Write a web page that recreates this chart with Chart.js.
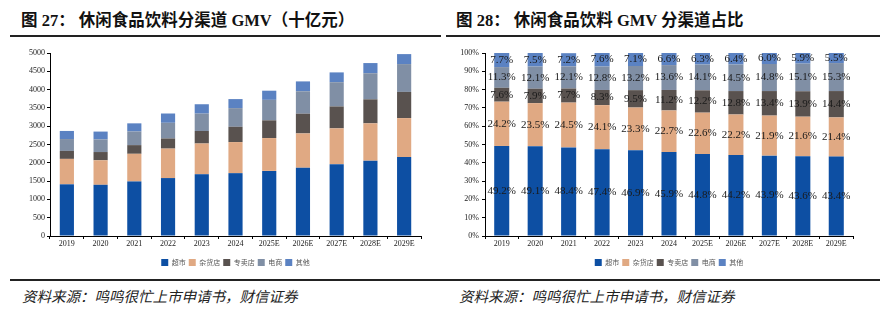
<!DOCTYPE html>
<html>
<head>
<meta charset="utf-8">
<script src="https://cdn.jsdelivr.net/npm/chart.js@4/dist/chart.umd.min.js"></script>
<style>
  body { margin: 0; width: 889px; height: 310px; background: #fff; position: relative; overflow: hidden; }
  .title { position: absolute; top: 7px; font: bold 16.5px "Liberation Serif", "Noto Sans CJK SC"; color: #111; white-space: nowrap; }
  .title .cn { font-family: "Noto Sans CJK SC"; font-weight: bold; }
  .rule { position: absolute; height: 2px; background: #222; }
  .src { position: absolute; top: 285px; font: 14.5px "Noto Sans CJK SC"; font-style: italic; color: #222; white-space: nowrap; }
  canvas { position: absolute; }
</style>
</head>
<body>
<div class="title" style="left:21px"><span class="cn">图</span> 27<span class="cn">：</span> <span class="cn">休闲食品饮料分渠道</span> GMV<span class="cn">（十亿元）</span></div>
<div class="title" style="left:456px"><span class="cn">图</span> 28<span class="cn">：</span> <span class="cn">休闲食品饮料</span> GMV <span class="cn">分渠道占比</span></div>
<div class="rule" style="left:10px; width:431px; top:35px"></div>
<div class="rule" style="left:446px; width:434px; top:35px"></div>
<div class="rule" style="left:10px; width:870px; top:279px"></div>
<div class="src" style="left:22px">资料来源：鸣鸣很忙上市申请书，财信证券</div>
<div class="src" style="left:459px">资料来源：鸣鸣很忙上市申请书，财信证券</div>

<canvas id="gmvChart" width="440" height="240" style="left:0; top:40px"></canvas>
<canvas id="shareChart" width="440" height="240" style="left:445px; top:40px"></canvas>

<script>
// 年份
const years = ['2019', '2020', '2021', '2022', '2023', '2024', '2025E', '2026E', '2027E', '2028E', '2029E'];
const channels = ['超市', '杂货店', '专卖店', '电商', '其他'];
const channelColors = ['#0d4fa3', '#e0a983', '#59524f', '#808fa5', '#5b82c2'];

// GMV（十亿元）
const gmvSupermarket = [1412, 1399, 1491, 1583, 1688, 1717, 1779, 1865, 1962, 2058, 2157];
const gmvGrocery     = [695, 670, 755, 805, 839, 849, 897, 937, 979, 1020, 1064];
const gmvSpecialty   = [218, 225, 237, 277, 342, 419, 484, 540, 599, 656, 716];
const gmvOnline      = [324, 345, 373, 428, 475, 509, 560, 612, 662, 713, 760];
const gmvOther       = [221, 214, 222, 254, 256, 247, 250, 270, 268, 278, 273];

// 占比（%）
const shareSupermarket = [49.2, 49.1, 48.4, 47.4, 46.9, 45.9, 44.8, 44.2, 43.9, 43.6, 43.4];
const shareGrocery     = [24.2, 23.5, 24.5, 24.1, 23.3, 22.7, 22.6, 22.2, 21.9, 21.6, 21.4];
const shareSpecialty   = [7.6, 7.9, 7.7, 8.3, 9.5, 11.2, 12.2, 12.8, 13.4, 13.9, 14.4];
const shareOnline      = [11.3, 12.1, 12.1, 12.8, 13.2, 13.6, 14.1, 14.5, 14.8, 15.1, 15.3];
const shareOther       = [7.7, 7.5, 7.2, 7.6, 7.1, 6.6, 6.3, 6.4, 6.0, 5.9, 5.5];

const tickFont = { family: '"Liberation Serif"', size: 8 };

function makeDatasets(series, barPct) {
    return series.map((data, i) => ({
        label: channels[i],
        data: data,
        backgroundColor: channelColors[i],
        borderWidth: 0,
        barPercentage: barPct,
        categoryPercentage: 1,
    }));
}

function baseOptions(yWidth, padRight, yOpts) {
    return {
        responsive: false,
        animation: false,
        layout: { padding: { top: 13, bottom: 4, left: 0, right: padRight } },
        plugins: {
            legend: {
                position: 'bottom',
                fullSize: false,
                labels: {
                    boxWidth: 7, boxHeight: 7, padding: 3,
                    font: { family: '"Noto Sans CJK SC"', size: 7 },
                    color: '#555',
                },
            },
            tooltip: { enabled: false },
        },
        scales: {
            x: {
                stacked: true,
                grid: { drawOnChartArea: false, color: '#000', tickLength: 3, offset: true },
                border: { color: '#000' },
                ticks: { font: tickFont, color: '#222', padding: 0, maxRotation: 0, autoSkip: false },
                afterFit: s => { s.height = 20; },
            },
            y: Object.assign({
                stacked: true,
                grid: { drawOnChartArea: false, color: '#000', tickLength: 3 },
                border: { color: '#000' },
                afterFit: s => { s.width = yWidth; },
            }, yOpts),
        },
    };
}

// 左图：GMV
new Chart(document.getElementById('gmvChart').getContext('2d'), {
    type: 'bar',
    data: {
        labels: years,
        datasets: makeDatasets([gmvSupermarket, gmvGrocery, gmvSpecialty, gmvOnline, gmvOther], 0.42),
    },
    options: baseOptions(50, 19, {
        min: 0, max: 5000,
        ticks: { stepSize: 500, font: tickFont, color: '#222', padding: 2, callback: v => String(v) },
    }),
});

// 右图：占比，柱内标注百分比
const segLabels = {
    id: 'segLabels',
    afterDatasetsDraw(chart) {
        const ctx = chart.ctx;
        ctx.save();
        ctx.font = '11px "Liberation Serif"';
        ctx.fillStyle = '#1a1a1a';
        ctx.textAlign = 'center';
        ctx.textBaseline = 'middle';
        chart.data.datasets.forEach((ds, i) => {
            chart.getDatasetMeta(i).data.forEach((bar, j) => {
                const p = bar.getProps(['x', 'y', 'base'], true);
                ctx.fillText(ds.data[j].toFixed(1) + '%', p.x, (p.y + p.base) / 2);
            });
        });
        ctx.restore();
    },
};

new Chart(document.getElementById('shareChart').getContext('2d'), {
    type: 'bar',
    data: {
        labels: years,
        datasets: makeDatasets([shareSupermarket, shareGrocery, shareSpecialty, shareOnline, shareOther], 0.45),
    },
    options: baseOptions(40, 32, {
        min: 0, max: 100,
        ticks: { stepSize: 10, font: tickFont, color: '#222', padding: 3, callback: v => v + '%' },
    }),
    plugins: [segLabels],
});
</script>
</body>
</html>
